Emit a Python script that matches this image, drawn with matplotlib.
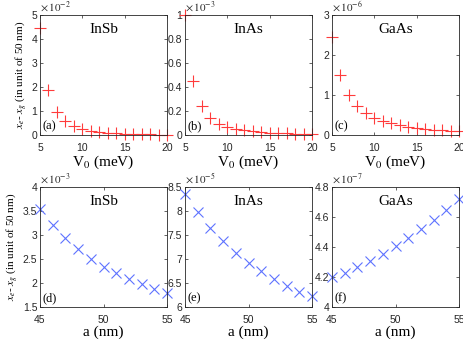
import numpy as np
import matplotlib
matplotlib.use("Agg")
import matplotlib.pyplot as plt

plt.rcParams['font.family'] = ['Liberation Sans', 'DejaVu Sans']
plt.rcParams['mathtext.fontset'] = 'stix'

# data (scaled by the factor shown above each panel)
V0 = np.arange(5, 21)
insb_v = [4.45, 1.87, 0.95, 0.57, 0.36, 0.24, 0.17, 0.12, 0.09, 0.07, 0.05, 0.04, 0.03, 0.025, 0.02, 0.015]
inas_v = [1.0, 0.45, 0.24, 0.145, 0.095, 0.068, 0.05, 0.038, 0.03, 0.024, 0.02, 0.016, 0.013, 0.011, 0.009, 0.008]
gaas_v = [2.45, 1.49, 1.0, 0.72, 0.55, 0.43, 0.35, 0.29, 0.245, 0.21, 0.18, 0.155, 0.135, 0.12, 0.105, 0.095]

a_nm = np.arange(45, 56)
insb_a = [3.55, 3.2, 2.93, 2.7, 2.5, 2.34, 2.2, 2.08, 1.97, 1.88, 1.8]
inas_a = [8.35, 7.97, 7.65, 7.38, 7.13, 6.92, 6.74, 6.58, 6.44, 6.32, 6.22]
gaas_a = [4.2, 4.23, 4.27, 4.31, 4.355, 4.405, 4.46, 4.52, 4.58, 4.65, 4.72]

names = ['InSb', 'InAs', 'GaAs']
top_exp = [-2, -3, -6]
bot_exp = [-3, -5, -7]
top_ylim = [(0, 5), (0, 1), (0, 3)]
bot_ylim = [(1.5, 4), (6, 8.5), (4, 4.8)]
top_yticks = [np.arange(0, 6, 1), np.arange(0, 1.01, 0.2), np.arange(0, 4, 1)]
bot_yticks = [np.arange(1.5, 4.01, 0.5), np.arange(6, 8.51, 0.5), np.arange(4, 4.81, 0.2)]
top_lbl = ['(a)', '(b)', '(c)']
bot_lbl = ['(d)', '(e)', '(f)']

fig = plt.figure(figsize=(4.64, 3.46), dpi=100)
lefts = [40 / 464, 185 / 464, 332 / 464]
w = 127 / 464
h = 120 / 346
edge = '#262626'
serif = ['Liberation Serif', 'DejaVu Serif']


def style(ax, ylim, yticks, exp, name, lbl, ylbl_fmt):
    ax.set_ylim(*ylim)
    ax.set_yticks(yticks)
    ax.set_yticklabels([ylbl_fmt(t) for t in yticks])
    ax.tick_params(direction='in', top=True, right=True, labelsize=7.5, length=2.5,
                   width=0.5, colors=edge, pad=2)
    ax.tick_params(axis='x', pad=6)
    for s in ax.spines.values():
        s.set_color(edge)
        s.set_linewidth(0.6)
    ax.text(0.0, 1.01, r'$\times\,10^{%d}$' % exp, transform=ax.transAxes,
            fontsize=8, ha='left', va='bottom', color=edge)
    ax.text(0.5, 0.93, name, transform=ax.transAxes, ha='center', va='top',
            fontsize=11, family=serif)
    ax.text(0.02, 0.02, lbl, transform=ax.transAxes, ha='left', va='bottom',
            fontsize=9, family=serif)


def fmt(t):
    s = ('%.1f' % t).rstrip('0').rstrip('.')
    return s


top_data = [insb_v, inas_v, gaas_v]
bot_data = [insb_a, inas_a, gaas_a]

for i in range(3):
    ax = fig.add_axes([lefts[i], 1 - 135 / 346, w, h])
    ax.plot(V0, top_data[i], '+', color='#ff3b3b', markersize=8, markeredgewidth=0.8, clip_on=False)
    ax.set_xlim(5, 20)
    ax.set_xticks([5, 10, 15, 20])
    style(ax, top_ylim[i], top_yticks[i], top_exp[i], names[i], top_lbl[i], fmt)
    ax.set_xlabel(r'V$_0$ (meV)', family=serif, fontsize=11, labelpad=0)
    if i == 0:
        ax.set_ylabel(r'$x_e$- $x_g$ (in unit of 50 nm)', family=serif, fontsize=8, labelpad=2)

    ax2 = fig.add_axes([lefts[i], 1 - 307 / 346, w, h])
    ax2.plot(a_nm, bot_data[i], 'x', color='#5f73ff', markersize=7, markeredgewidth=0.8, clip_on=False)
    ax2.set_xlim(45, 55)
    ax2.set_xticks([45, 50, 55])
    style(ax2, bot_ylim[i], bot_yticks[i], bot_exp[i], names[i], bot_lbl[i], fmt)
    ax2.set_xlabel('a (nm)', family=serif, fontsize=11, labelpad=0)
    if i == 0:
        ax2.set_ylabel(r'$x_e$- $x_g$ (in unit of 50 nm)', family=serif, fontsize=8, labelpad=2)

fig.savefig('out.png', dpi=100)
